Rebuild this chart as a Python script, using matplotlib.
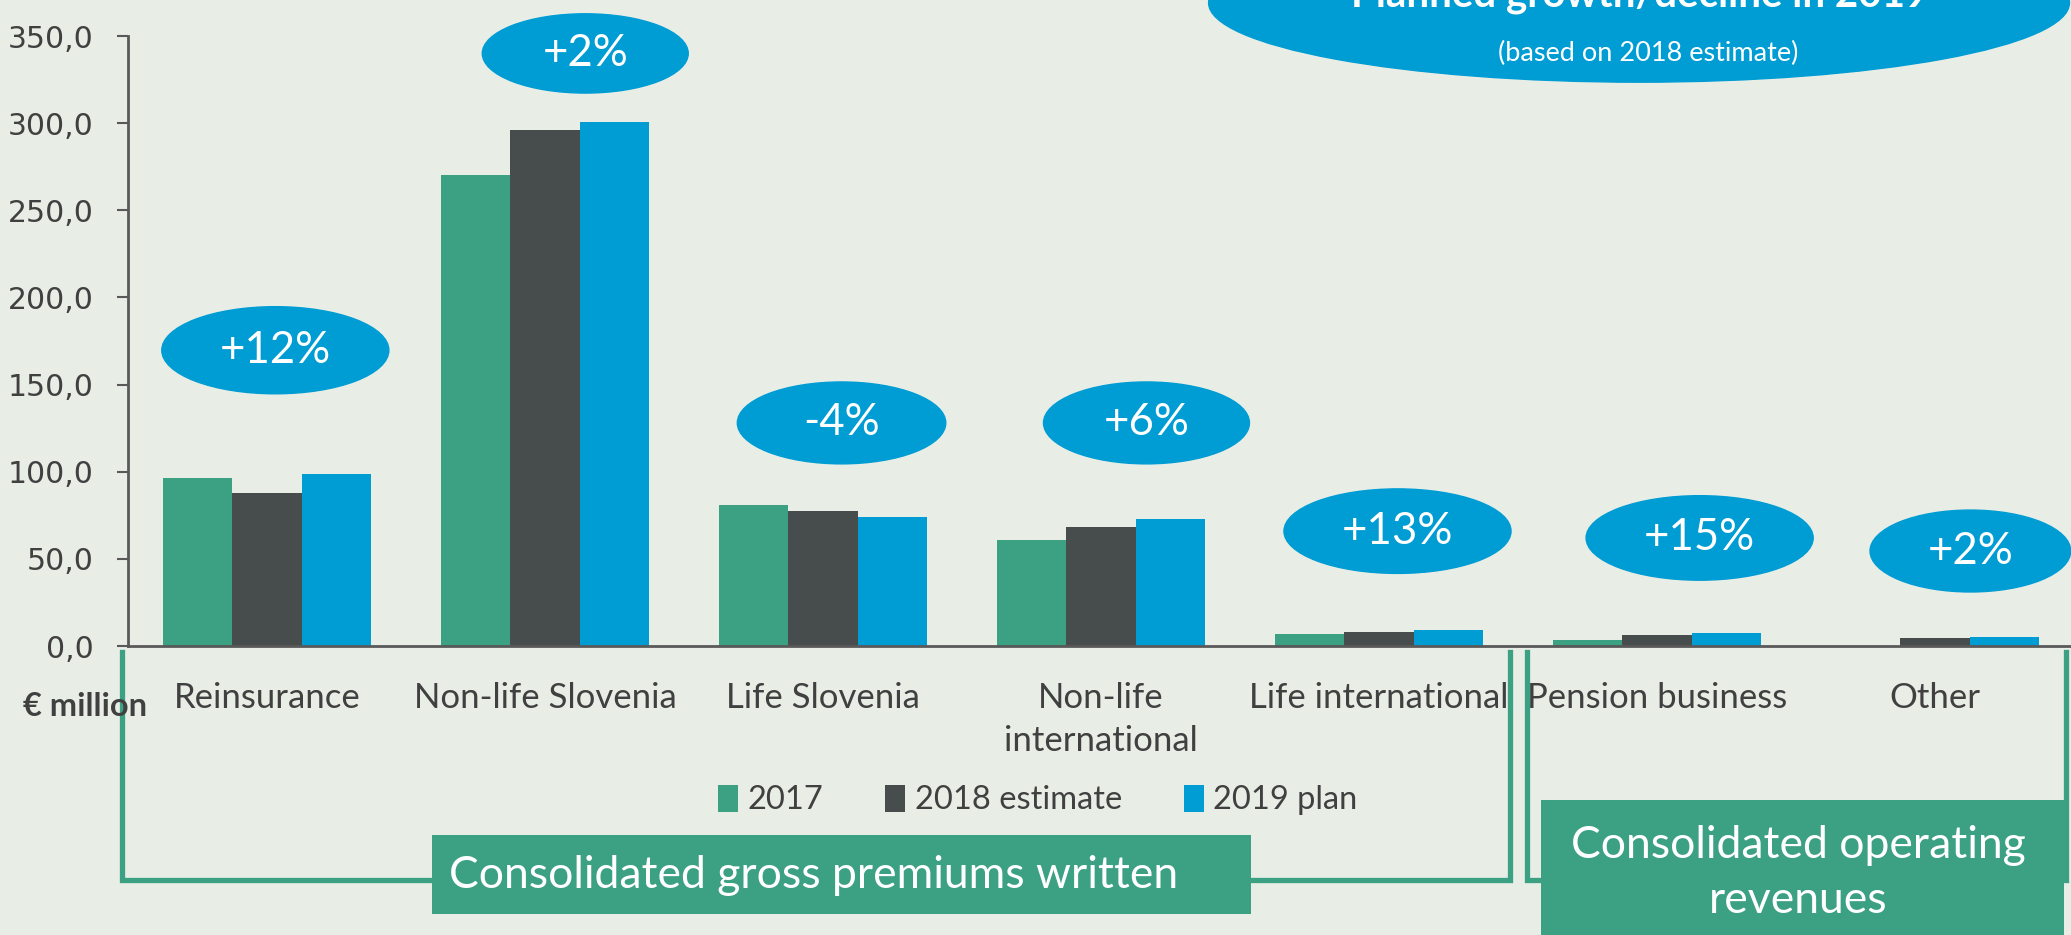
import matplotlib
matplotlib.use("Agg")
import matplotlib.pyplot as plt
from matplotlib.patches import Ellipse, Rectangle
from matplotlib.lines import Line2D

# ---------------- data ----------------
categories = ["Reinsurance", "Non-life Slovenia", "Life Slovenia",
              "Non-life\ninternational", "Life international",
              "Pension business", "Other"]
series_names = ["2017", "2018 estimate", "2019 plan"]
v2017 = [96.2, 270.5, 81.0, 60.6, 7.0, 3.6, 0.0]
v2018 = [87.9, 296.2, 77.3, 68.2, 8.0, 6.1, 4.8]
v2019 = [98.5, 300.8, 74.2, 72.7, 9.0, 7.3, 5.0]
growth_labels = ["+12%", "+2%", "-4%", "+6%", "+13%", "+15%", "+2%"]
yticks = [0, 50, 100, 150, 200, 250, 300, 350]
ytick_labels = ["0,0", "50,0", "100,0", "150,0", "200,0", "250,0", "300,0", "350,0"]
unit_label = "€ million"
title_main = "Planned growth/decline in 2019"
title_sub = "(based on 2018 estimate)"
group1_label = "Consolidated gross premiums written"
group2_label = "Consolidated operating\nrevenues"

# ---------------- style ----------------
BG = "#E8EEE6"
GREEN = "#3CA083"
DARK = "#474C4D"
BLUE = "#009CD4"
TXT = "#404040"
FONT = ["Lato", "DejaVu Sans"]

W, H = 2071, 935
fig = plt.figure(figsize=(W / 100, H / 100), dpi=100, facecolor=BG)
ax = fig.add_axes([128 / W, 1 - 646 / H, 1 - 128 / W, (646 - 36) / H])
ax.set_facecolor(BG)

x = list(range(len(categories)))
bw = 0.25
colors = [GREEN, DARK, BLUE]
bars = []
for i, (vals, c, name) in enumerate(zip([v2017, v2018, v2019], colors, series_names)):
    b = ax.bar([xi + (i - 1) * bw for xi in x], vals, width=bw, color=c,
               label=name, zorder=2)
    bars.append(b)

ax.set_xlim(-0.5, 6.49)
ax.set_ylim(0, 350)
ax.set_yticks(yticks)
ax.set_yticklabels(ytick_labels, fontsize=21.5, color=TXT, family="DejaVu Sans")
ax.set_xticks(x)
ax.set_xticklabels(categories, fontsize=25, color=TXT, family=FONT, linespacing=1.4)
ax.tick_params(axis="x", length=0, pad=26)
ax.tick_params(axis="y", length=8, width=1.5, color="#595959", pad=17)
for s in ["top", "right"]:
    ax.spines[s].set_visible(False)
for s in ["left", "bottom"]:
    ax.spines[s].set_color("#595959")
    ax.spines[s].set_linewidth(2)

# growth ellipses (data coordinates)
ell_x = [0.03, 1.145, 2.067, 3.164, 4.067, 5.154, 6.128]
ell_y = [169.7, 340, 128, 128, 65.9, 62, 54.5]
ell_w = [0.817, 0.741, 0.75, 0.741, 0.817, 0.817, 0.722]
ell_h = [50, 45.5, 47, 47, 48.5, 48.5, 47]
for ex, ey, ew, eh, lab in zip(ell_x, ell_y, ell_w, ell_h, growth_labels):
    ax.add_patch(Ellipse((ex, ey), ew, eh, color=BLUE, clip_on=False, zorder=3))
    ax.text(ex, ey, lab, ha="center", va="center", color="white",
            fontsize=31.5, family=FONT, zorder=4)

# big title ellipse
ax.add_patch(Ellipse((4.936, 369), 3.097, 91, color=BLUE, clip_on=False, zorder=3))
fig.text(1640 / W, 1 - 7 / H, title_main, ha="center", va="baseline",
         color="white", fontsize=29, fontweight="bold", family=FONT, zorder=5)
fig.text(1648 / W, 1 - 53 / H, title_sub, ha="center", va="center",
         color="white", fontsize=19.5, family=FONT, zorder=5)

# unit label
fig.text(85 / W, 1 - 707 / H, unit_label, ha="center", va="center",
         color=TXT, fontsize=23.5, fontweight="bold", family=FONT)

# legend
leg = fig.legend(handles=bars, labels=series_names, loc="center",
                 bbox_to_anchor=(1038 / W, 1 - 800 / H), ncol=3, frameon=False,
                 prop={"family": "Lato", "size": 23.5}, handlelength=0.6,
                 handleheight=0.9, handletextpad=0.3, columnspacing=1.9)
for t in leg.get_texts():
    t.set_color(TXT)

# brackets (figure pixel coords)
def px(xp, yp):
    return xp / W, 1 - yp / H

def bracket(x0, x1, ytop, ybot):
    xs = [x0, x0, x1, x1]
    ys = [ytop, ybot, ybot, ytop]
    fx = [xx / W for xx in xs]
    fy = [1 - yy / H for yy in ys]
    fig.add_artist(Line2D(fx, fy, color=GREEN, lw=3.8, solid_joinstyle="miter",
                          zorder=1))

bracket(121.5, 1510, 652, 880)
bracket(1527, 2066, 652, 880)

# label boxes
fig.add_artist(Rectangle(px(432, 914), (1251 - 432) / W, (914 - 835) / H,
                         facecolor=GREEN, edgecolor="none", zorder=2))
fig.text(814 / W, 1 - 875 / H, group1_label, ha="center", va="center",
         color="white", fontsize=32, family=FONT, zorder=3)
fig.add_artist(Rectangle(px(1541, 935), (2064 - 1541) / W, (935 - 800) / H,
                         facecolor=GREEN, edgecolor="none", zorder=2))
fig.text(1798 / W, 1 - 873 / H, group2_label, ha="center", va="center",
         color="white", fontsize=32, family=FONT, linespacing=1.45, zorder=3)

fig.savefig("out.png", dpi=100, facecolor=BG)
